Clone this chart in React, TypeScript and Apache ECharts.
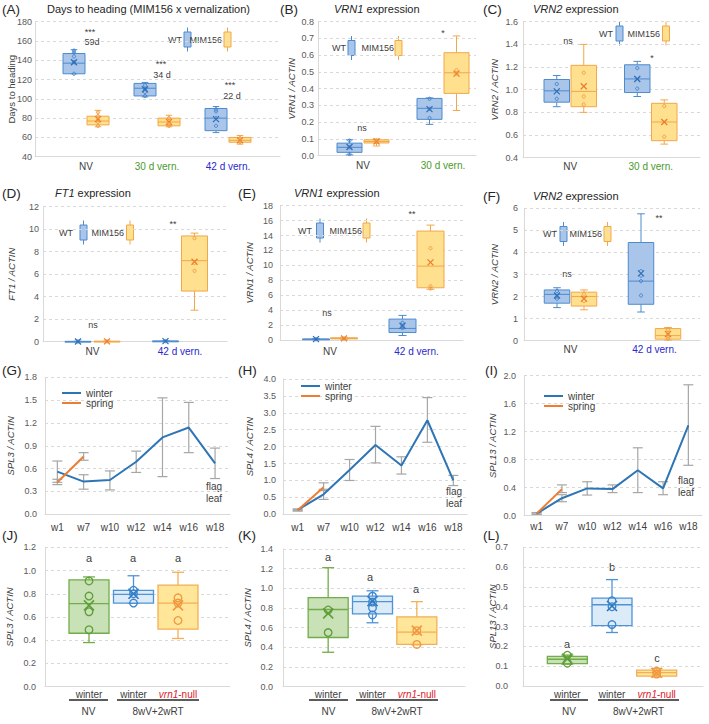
import React, { useEffect, useRef } from 'react';
import * as echarts from 'echarts';

const FONT = '"Liberation Sans", Arial, Helvetica, sans-serif';
const INK = '#404040';
const TICK = '#595959';
const GRIDLINE = '#d9d9d9';
const WINTER = '#2e75b6';
const SPRING = '#ed7d31';

// ---------- (A) Days to heading ----------
const aCategories = ['NV', '30 d vern.', '42 d vern.'];
// box stats: [min, Q1, median, Q3, max]
const aWTBox = [[126, 126, 137, 147, 151], [102, 103, 111, 116, 117], [65, 67, 80, 90, 92]];
const aWTMean = [138, 110, 79];
const aWTPoints = [[126, 138, 144, 148, 150], [103, 107, 110, 114], [72, 80, 87, 89]];
const aMIMBox = [[71, 73, 77, 82, 88], [71, 72, 76, 80, 83], [53, 55, 57, 60, 62]];
const aMIMMean = [79, 76, 57];
const aMIMPoints = [[72, 76, 78, 82, 86], [72, 74, 77, 80], [55, 57, 59]];

// ---------- (B) VRN1, 30 d ----------
const bCategories = ['NV', '30 d vern.'];
const bWTBox = [[0.005, 0.02, 0.05, 0.075, 0.095], [0.187, 0.217, 0.283, 0.342, 0.345]];
const bWTMean = [0.052, 0.278];
const bWTPoints = [[0.01, 0.05, 0.09], [0.225, 0.28, 0.34]];
const bMIMBox = [[0.058, 0.076, 0.085, 0.095, 0.1], [0.27, 0.372, 0.495, 0.615, 0.715]];
const bMIMMean = [0.085, 0.49];
const bMIMPoints = [[0.08, 0.09], [0.49, 0.51]];

// ---------- (C) VRN2, 30 d ----------
const cCategories = ['NV', '30 d vern.'];
const cWTBox = [[0.85, 0.89, 0.99, 1.09, 1.125], [0.94, 0.975, 1.095, 1.22, 1.25]];
const cWTMean = [0.985, 1.095];
const cWTPoints = [[0.92, 1.05], [1.01, 1.19]];
const cMIMBox = [[0.8, 0.85, 0.985, 1.215, 1.4], [0.52, 0.55, 0.715, 0.88, 0.91]];
const cMIMMean = [1.03, 0.715];
const cMIMPoints = [[0.87, 0.94, 1.15], [0.585, 0.855]];

// ---------- (D) FT1, 42 d ----------
const dCategories = ['NV', '42 d vern.'];
const dWTBox = [[0.01, 0.015, 0.02, 0.03, 0.04], [0.03, 0.04, 0.05, 0.06, 0.07]];
const dWTMean = [0.02, 0.05];
const dWTPoints = [[0.02], [0.05]];
const dMIMBox = [[0.01, 0.02, 0.03, 0.04, 0.05], [2.8, 4.5, 7.2, 9.4, 9.65]];
const dMIMMean = [0.03, 7.1];
const dMIMPoints = [[0.03], [6.3, 7.0, 9.2]];

// ---------- (E) VRN1, 42 d ----------
const eCategories = ['NV', '42 d vern.'];
const eWTBox = [[0.05, 0.08, 0.1, 0.14, 0.18], [0.6, 1.0, 1.55, 2.8, 3.3]];
const eWTMean = [0.12, 1.9];
const eWTPoints = [[0.1], [1.6, 1.9, 2.3]];
const eMIMBox = [[0.1, 0.15, 0.2, 0.3, 0.35], [6.8, 7.0, 9.9, 14.6, 15.4]];
const eMIMMean = [0.22, 10.4];
const eMIMPoints = [[0.2], [6.9, 7.2, 12.3]];

// ---------- (F) VRN2, 42 d ----------
const fCategories = ['NV', '42 d vern.'];
const fWTBox = [[1.5, 1.7, 2.1, 2.3, 2.4], [1.3, 1.65, 2.7, 4.45, 5.75]];
const fWTMean = [2.05, 3.05];
const fWTPoints = [[1.9, 2.0, 2.25], [2.05, 2.7, 2.95, 3.15]];
const fMIMBox = [[1.4, 1.57, 2.0, 2.2, 2.3], [0.03, 0.07, 0.23, 0.55, 0.6]];
const fMIMMean = [1.9, 0.3];
const fMIMPoints = [[1.8, 2.1], [0.1, 0.2, 0.35, 0.5]];

// ---------- (G)-(I) time courses ----------
const weeks = ['w1', 'w7', 'w10', 'w12', 'w14', 'w16', 'w18'];
const gWinter = [0.56, 0.43, 0.45, 0.69, 1.01, 1.14, 0.67];
const gWinterLow = [0.42, 0.33, 0.32, 0.55, 0.495, 0.81, 0.47];
const gWinterHigh = [0.7, 0.52, 0.57, 0.83, 1.53, 1.47, 0.87];
const gSpring = [0.42, 0.76];
const gSpringLow = [0.39, 0.71];
const gSpringHigh = [0.46, 0.81];

const hWinter = [0.13, 0.59, 1.31, 2.05, 1.44, 2.78, 1.0];
const hWinterLow = [0.1, 0.44, 1.0, 1.52, 1.19, 2.13, 0.85];
const hWinterHigh = [0.16, 0.74, 1.62, 2.6, 1.7, 3.45, 1.15];
const hSpring = [0.12, 0.8];
const hSpringLow = [0.1, 0.7];
const hSpringHigh = [0.14, 0.93];

const iWinter = [0.03, 0.25, 0.39, 0.38, 0.65, 0.39, 1.29];
const iWinterLow = [0.02, 0.2, 0.295, 0.33, 0.33, 0.3, 0.72];
const iWinterHigh = [0.045, 0.3, 0.485, 0.44, 0.97, 0.485, 1.87];
const iSpring = [0.03, 0.38];
const iSpringLow = [0.02, 0.33];
const iSpringHigh = [0.04, 0.44];

// ---------- (J)-(L) SPL expression, NV winter / 8wV+2wRT winter / vrn1-null ----------
const jklCategories = ['winter', 'winter', 'vrn1-null'];
const jBox = [[0.38, 0.46, 0.715, 0.92, 0.945], [0.718, 0.72, 0.795, 0.83, 0.955], [0.415, 0.495, 0.72, 0.875, 0.985]];
const jMean = [0.7, 0.8, 0.7];
const jPoints = [[0.49, 0.645, 0.78, 0.91], [0.72, 0.8, 0.83], [0.57, 0.72, 0.765]];
const kBox = [[0.35, 0.5, 0.785, 0.905, 1.21], [0.65, 0.74, 0.865, 0.92, 0.975], [0.425, 0.43, 0.555, 0.71, 0.865]];
const kMean = [0.745, 0.87, 0.57];
const kPoints = [[0.55, 0.78], [0.73, 0.8, 0.86, 0.92], [0.43, 0.57]];
const lBox = [[0.11, 0.113, 0.135, 0.15, 0.156], [0.27, 0.305, 0.41, 0.443, 0.537], [0.046, 0.05, 0.067, 0.08, 0.088]];
const lMean = [0.138, 0.404, 0.067];
const lPoints = [[0.115, 0.155], [0.31, 0.4, 0.43], [0.06, 0.075]];

// ---------- styles ----------
const WT = { fill: '#a9c5e9', stroke: '#4d8bce', mean: '#2e6db4', point: '#3f7fc6' };
const MIM = { fill: '#ffe08e', stroke: '#f2a74a', mean: '#ec7b2d', point: '#ee9840' };
const GREEN = { fill: '#c8e1b6', stroke: '#72ad4a', mean: '#5f9e3a', point: '#5f9e3a' };
const PALEBLUE = { fill: '#dcebf8', stroke: '#4f93d6', mean: '#2e75b6', point: '#3a84cc' };
const YELLOW = { fill: '#ffe699', stroke: '#f4ae55', mean: '#ef9940', point: '#ef9940' };

const RICH = {
  n: { color: INK, fontSize: 10, fontFamily: FONT },
  g: { color: '#4a9a2c', fontSize: 10, fontFamily: FONT },
  b: { color: '#2828cc', fontSize: 10, fontFamily: FONT },
  ri: { color: '#e0202a', fontSize: 10, fontStyle: 'italic', fontFamily: FONT },
  r: { color: '#e0202a', fontSize: 10, fontFamily: FONT },
};

function catLabel(c: string): string {
  if (c === '30 d vern.') return `{g|${c}}`;
  if (c === '42 d vern.') return `{b|${c}}`;
  if (c === 'vrn1-null') return '{ri|vrn1}{r|-null}';
  return `{n|${c}}`;
}

interface Plot { l: number; t: number; r: number; b: number }
interface PanelSpec {
  plot: Plot; catL: number; catR: number; cats: string[];
  yMin: number; yMax: number; yStep: number; digits: number;
  yName: string; italic: boolean; nameGap: number; yLabelMargin: number; xLabelMargin: number;
}

type Style = { fill: string; stroke: string; mean: string; point: string };

function boxSeries(axis: number, items: { cat: number; s: number[]; mean: number }[], st: Style, dx: number, w: number, mark: number, lw: number) {
  return {
    type: 'custom', xAxisIndex: axis, yAxisIndex: axis, silent: true, clip: false, z: 2,
    data: items.map((it) => [it.cat, ...it.s, it.mean]),
    encode: { x: 0, y: [1, 2, 3, 4, 5, 6] },
    renderItem: (_params: any, api: any) => {
      const c = api.value(0);
      const at = (k: number) => api.coord([c, api.value(k)]);
      const x = at(1)[0] + dx;
      const yMin = at(1)[1], yQ1 = at(2)[1], yMed = at(3)[1], yQ3 = at(4)[1], yMax = at(5)[1], yMean = at(6)[1];
      const cap = w * 0.3;
      const m = mark / 2;
      const ln = (x1: number, y1: number, x2: number, y2: number, color = st.stroke, width = lw) => ({
        type: 'line', shape: { x1, y1, x2, y2 }, style: { stroke: color, lineWidth: width },
      });
      return {
        type: 'group',
        children: [
          ln(x, yMax, x, yQ3), ln(x, yQ1, x, yMin),
          ln(x - cap / 2, yMax, x + cap / 2, yMax), ln(x - cap / 2, yMin, x + cap / 2, yMin),
          { type: 'rect', shape: { x: x - w / 2, y: yQ3, width: w, height: Math.max(yQ1 - yQ3, 0.8) }, style: { fill: st.fill, stroke: st.stroke, lineWidth: lw } },
          ln(x - w / 2, yMed, x + w / 2, yMed),
          ln(x - m, yMean - m, x + m, yMean + m, st.mean, lw + 0.3),
          ln(x - m, yMean + m, x + m, yMean - m, st.mean, lw + 0.3),
        ],
      };
    },
  };
}

function pointSeries(axis: number, pts: number[][], st: Style, dx: number, r: number, lw: number) {
  return {
    type: 'custom', xAxisIndex: axis, yAxisIndex: axis, silent: true, clip: false, z: 3,
    data: pts, encode: { x: 0, y: 1 },
    renderItem: (_params: any, api: any) => {
      const p = api.coord([api.value(0), api.value(1)]);
      return { type: 'circle', shape: { cx: p[0] + dx, cy: p[1], r }, style: { fill: 'transparent', stroke: st.point, lineWidth: lw } };
    },
  };
}

function errorSeries(axis: number, low: number[], high: number[]) {
  return {
    type: 'custom', xAxisIndex: axis, yAxisIndex: axis, silent: true, clip: false, z: 1,
    data: low.map((lo, i) => [i, lo, high[i]]), encode: { x: 0, y: [1, 2] },
    renderItem: (_params: any, api: any) => {
      const a = api.coord([api.value(0), api.value(1)]);
      const b = api.coord([api.value(0), api.value(2)]);
      const s = { stroke: '#a6a6a6', lineWidth: 1.2 };
      return {
        type: 'group',
        children: [
          { type: 'line', shape: { x1: a[0], y1: a[1], x2: b[0], y2: b[1] }, style: s },
          { type: 'line', shape: { x1: a[0] - 5, y1: a[1], x2: a[0] + 5, y2: a[1] }, style: s },
          { type: 'line', shape: { x1: b[0] - 5, y1: b[1], x2: b[0] + 5, y2: b[1] }, style: s },
        ],
      };
    },
  };
}

const flat = (pts: number[][]) => pts.flatMap((arr, cat) => arr.map((v) => [cat, v]));

function buildOption() {
  const grids: any[] = [];
  const xAxes: any[] = [];
  const yAxes: any[] = [];
  const series: any[] = [];
  const elements: any[] = [];

  const addPanel = (p: PanelSpec): number => {
    const h = p.plot.b - p.plot.t;
    const outer = grids.length;
    grids.push({ left: p.plot.l, top: p.plot.t, width: p.plot.r - p.plot.l, height: h, containLabel: false, outerBoundsMode: 'none' });
    xAxes.push({
      gridIndex: outer, type: 'value', min: 0, max: 1,
      axisLine: { show: true, onZero: false, lineStyle: { color: GRIDLINE, width: 1 } },
      axisTick: { show: false }, axisLabel: { show: false }, splitLine: { show: false },
    });
    yAxes.push({
      gridIndex: outer, type: 'value', min: p.yMin, max: p.yMax, interval: p.yStep,
      axisLine: { show: true, onZero: false, lineStyle: { color: GRIDLINE, width: 1 } },
      axisTick: { show: false },
      axisLabel: { show: true, margin: p.yLabelMargin, fontSize: 9, color: TICK, fontFamily: FONT, formatter: (v: number) => v.toFixed(p.digits) },
      splitLine: { show: true, lineStyle: { color: GRIDLINE, type: [3, 3], width: 1 } },
      name: p.yName, nameLocation: 'middle', nameRotate: 90, nameGap: p.nameGap, nameMoveOverlap: false,
      nameTextStyle: { fontSize: 9.5, color: INK, fontStyle: p.italic ? 'italic' : 'normal', fontFamily: FONT },
    });
    const inner = grids.length;
    grids.push({ left: p.catL, top: p.plot.t, width: p.catR - p.catL, height: h, containLabel: false, outerBoundsMode: 'none' });
    xAxes.push({
      gridIndex: inner, type: 'category', data: p.cats.map((_c, i) => String(i)), boundaryGap: true,
      axisLine: { show: false }, axisTick: { show: false }, splitLine: { show: false },
      axisLabel: { show: true, interval: 0, margin: p.xLabelMargin, formatter: (v: string) => catLabel(p.cats[Number(v)]), rich: RICH },
    });
    yAxes.push({ gridIndex: inner, type: 'value', min: p.yMin, max: p.yMax, show: false });
    return inner;
  };

  const pairPanel = (axis: number, wtBox: number[][], wtMean: number[], wtPts: number[][], mimBox: number[][], mimMean: number[], mimPts: number[][], dx: number, w: number) => {
    series.push(boxSeries(axis, wtBox.map((s, i) => ({ cat: i, s, mean: wtMean[i] })), WT, -dx, w, 6, 1));
    series.push(boxSeries(axis, mimBox.map((s, i) => ({ cat: i, s, mean: mimMean[i] })), MIM, dx, w, 6, 1));
    series.push(pointSeries(axis, flat(wtPts), WT, -dx, 1.6, 0.9));
    series.push(pointSeries(axis, flat(mimPts), MIM, dx, 1.6, 0.9));
  };

  const trioPanel = (axis: number, boxes: number[][], means: number[], pts: number[][]) => {
    [GREEN, PALEBLUE, YELLOW].forEach((st, i) => {
      series.push(boxSeries(axis, [{ cat: i, s: boxes[i], mean: means[i] }], st, 0, 40, 10, 1.3));
      series.push(pointSeries(axis, pts[i].map((v) => [i, v]), st, 0, 3.8, 1.3));
    });
  };

  const linePanel = (axis: number, winter: number[], wLo: number[], wHi: number[], spring: number[], sLo: number[], sHi: number[]) => {
    series.push(errorSeries(axis, wLo, wHi));
    series.push(errorSeries(axis, sLo, sHi));
    series.push({ name: 'winter', type: 'line', xAxisIndex: axis, yAxisIndex: axis, data: winter, symbol: 'none', silent: true, z: 3, lineStyle: { color: WINTER, width: 2 }, itemStyle: { color: WINTER } });
    series.push({ name: 'spring', type: 'line', xAxisIndex: axis, yAxisIndex: axis, data: spring, symbol: 'none', silent: true, z: 3, lineStyle: { color: SPRING, width: 2 }, itemStyle: { color: SPRING } });
  };

  // ----- panels -----
  const A = addPanel({ plot: { l: 35, t: 21.7, r: 280, b: 156.7 }, catL: 50.5, catR: 263.5, cats: aCategories, yMin: 40, yMax: 180, yStep: 20, digits: 0, yName: 'Days to heading', italic: false, nameGap: 18.5, yLabelMargin: 3, xLabelMargin: 5 });
  const B = addPanel({ plot: { l: 318, t: 21.7, r: 476, b: 155.7 }, catL: 323, catR: 483, cats: bCategories, yMin: 0, yMax: 0.8, yStep: 0.1, digits: 1, yName: 'VRN1 / ACTIN', italic: true, nameGap: 21.5, yLabelMargin: 4, xLabelMargin: 5 });
  const C = addPanel({ plot: { l: 523, t: 21.7, r: 700, b: 157.7 }, catL: 530, catR: 691, cats: cCategories, yMin: 0.4, yMax: 1.6, yStep: 0.2, digits: 1, yName: 'VRN2 / ACTIN', italic: true, nameGap: 23.5, yLabelMargin: 5, xLabelMargin: 4 });
  const D = addPanel({ plot: { l: 43, t: 206.7, r: 227, b: 341.7 }, catL: 48.75, catR: 223.75, cats: dCategories, yMin: 0, yMax: 12, yStep: 2, digits: 0, yName: 'FT1 / ACTIN', italic: true, nameGap: 26.5, yLabelMargin: 4, xLabelMargin: 5 });
  const E = addPanel({ plot: { l: 280, t: 205.7, r: 463, b: 340 }, catL: 286.75, catR: 459.75, cats: eCategories, yMin: 0, yMax: 18, yStep: 2, digits: 0, yName: 'VRN1 / ACTIN', italic: true, nameGap: 25.5, yLabelMargin: 7, xLabelMargin: 6 });
  const F = addPanel({ plot: { l: 524, t: 208.3, r: 700, b: 340.7 }, catL: 528.5, catR: 696.5, cats: fCategories, yMin: 0, yMax: 6, yStep: 1, digits: 0, yName: 'VRN2 / ACTIN', italic: true, nameGap: 24.5, yLabelMargin: 6, xLabelMargin: 4 });
  const G = addPanel({ plot: { l: 45, t: 377.3, r: 230, b: 514.3 }, catL: 44.2, catR: 228.2, cats: weeks, yMin: 0, yMax: 1.8, yStep: 0.3, digits: 1, yName: 'SPL3 / ACTIN', italic: true, nameGap: 29.5, yLabelMargin: 8, xLabelMargin: 8 });
  const H = addPanel({ plot: { l: 283, t: 379, r: 467, b: 514.3 }, catL: 284.7, catR: 466.3, cats: weeks, yMin: 0, yMax: 4, yStep: 0.5, digits: 1, yName: 'SPL4 / ACTIN', italic: true, nameGap: 28.5, yLabelMargin: 7, xLabelMargin: 8 });
  const I = addPanel({ plot: { l: 524, t: 375.7, r: 702, b: 515.7 }, catL: 524, catR: 701, cats: weeks, yMin: 0, yMax: 2, yStep: 0.4, digits: 1, yName: 'SPL13 / ACTIN', italic: true, nameGap: 26.5, yLabelMargin: 8, xLabelMargin: 6 });
  const J = addPanel({ plot: { l: 45, t: 547.3, r: 230, b: 686.7 }, catL: 66.75, catR: 200.25, cats: jklCategories, yMin: 0, yMax: 1.2, yStep: 0.2, digits: 1, yName: 'SPL3 / ACTIN', italic: true, nameGap: 30.5, yLabelMargin: 9, xLabelMargin: 2.5 });
  const K = addPanel({ plot: { l: 283, t: 549, r: 465, b: 686.7 }, catL: 306, catR: 439, cats: jklCategories, yMin: 0, yMax: 1.4, yStep: 0.2, digits: 1, yName: 'SPL4 / ACTIN', italic: true, nameGap: 30.5, yLabelMargin: 10, xLabelMargin: 2.5 });
  const L = addPanel({ plot: { l: 523, t: 547.3, r: 703, b: 686 }, catL: 545, catR: 679, cats: jklCategories, yMin: 0, yMax: 0.7, yStep: 0.1, digits: 1, yName: 'SPL13 / ACTIN', italic: true, nameGap: 25.5, yLabelMargin: 15, xLabelMargin: 3 });

  pairPanel(A, aWTBox, aWTMean, aWTPoints, aMIMBox, aMIMMean, aMIMPoints, 12, 22);
  pairPanel(B, bWTBox, bWTMean, bWTPoints, bMIMBox, bMIMMean, bMIMPoints, 13.5, 25);
  pairPanel(C, cWTBox, cWTMean, cWTPoints, cMIMBox, cMIMMean, cMIMPoints, 13.5, 25.5);
  pairPanel(D, dWTBox, dWTMean, dWTPoints, dMIMBox, dMIMMean, dMIMPoints, 14.5, 26);
  pairPanel(E, eWTBox, eWTMean, eWTPoints, eMIMBox, eMIMMean, eMIMPoints, 14, 27);
  pairPanel(F, fWTBox, fWTMean, fWTPoints, fMIMBox, fMIMMean, fMIMPoints, 13.5, 25.5);
  linePanel(G, gWinter, gWinterLow, gWinterHigh, gSpring, gSpringLow, gSpringHigh);
  linePanel(H, hWinter, hWinterLow, hWinterHigh, hSpring, hSpringLow, hSpringHigh);
  linePanel(I, iWinter, iWinterLow, iWinterHigh, iSpring, iSpringLow, iSpringHigh);
  trioPanel(J, jBox, jMean, jPoints);
  trioPanel(K, kBox, kMean, kPoints);
  trioPanel(L, lBox, lMean, lPoints);

  // ----- text decorations -----
  const text = (x: number, y: number, t: string, extra: any = {}) => ({
    type: 'text', x, y, silent: true,
    style: { text: t, fontFamily: FONT, fontSize: 9, fill: INK, align: 'center', verticalAlign: 'middle', ...extra },
  });
  const line = (x1: number, y1: number, x2: number, y2: number, stroke: string, lineWidth = 1) => ({
    type: 'line', silent: true, shape: { x1, y1, x2, y2 }, style: { stroke, lineWidth },
  });

  const tags: [string, number, number][] = [
    ['(A)', 2, 9], ['(B)', 280, 9], ['(C)', 483, 9], ['(D)', 2, 193], ['(E)', 238, 193], ['(F)', 483, 196],
    ['(G)', 2, 370], ['(H)', 238, 370], ['(I)', 485, 370], ['(J)', 2, 535], ['(K)', 238, 535], ['(L)', 483, 535],
  ];
  tags.forEach(([t, x, y]) => elements.push(text(x, y, t, { fontSize: 13.5, fill: '#262626', align: 'left' })));

  const titleRich = {
    i: { fontStyle: 'italic', fontSize: 11, fontFamily: FONT, fill: '#262626' },
    n: { fontSize: 11, fontFamily: FONT, fill: '#262626' },
  };
  const titles: [number, number, string][] = [
    [47, 9, '{n|Days to heading (MIM156 x vernalization)}'],
    [334, 9, '{i|VRN1}{n| expression}'],
    [533, 9, '{i|VRN2}{n| expression}'],
    [55, 193, '{i|FT1}{n| expression}'],
    [294, 193, '{i|VRN1}{n| expression}'],
    [533, 196, '{i|VRN2}{n| expression}'],
  ];
  titles.forEach(([x, y, t]) => elements.push(text(x, y, t, { align: 'left', rich: titleRich })));

  const notes: [string, number, number][] = [
    ['***', 90, 32], ['59d', 92, 42], ['***', 161, 64], ['34 d', 162, 75], ['***', 230, 85], ['22 d', 232, 96],
    ['ns', 362, 128], ['*', 443, 33], ['ns', 568, 41], ['*', 652, 58],
    ['ns', 93, 325], ['**', 173, 224], ['ns', 327, 313], ['**', 412, 214], ['ns', 567, 274], ['**', 659, 218],
  ];
  notes.forEach(([t, x, y]) => elements.push(text(x, y, t)));

  const letters: [string, number, number][] = [
    ['a', 89, 558], ['a', 133, 558], ['a', 178, 558],
    ['a', 328, 557], ['a', 370, 577], ['a', 416, 589],
    ['b', 612, 567], ['a', 567, 644], ['c', 657, 658],
  ];
  letters.forEach(([t, x, y]) => elements.push(text(x, y, t, { fontSize: 11 })));

  // WT / MIM156 keys with small box glyphs
  const keys: { cy: number; wt: [number, number]; mim: [number, number] }[] = [
    { cy: 39.5, wt: [182, 187.5], mim: [222, 227.5] },
    { cy: 48, wt: [346, 351.5], mim: [394, 398.5] },
    { cy: 33.5, wt: [613, 619.5], mim: [660, 666] },
    { cy: 232.5, wt: [73, 83.5], mim: [124, 130] },
    { cy: 230.5, wt: [312, 320], mim: [362, 366.5] },
    { cy: 234, wt: [557, 563.5], mim: [602, 607.5] },
  ];
  keys.forEach((k) => {
    ([[k.wt, 'WT', WT], [k.mim, 'MIM156', MIM]] as any[]).forEach(([pos, label, st]) => {
      const [tx, cx] = pos;
      elements.push(text(tx, k.cy, label, { align: 'right' }));
      elements.push(line(cx, k.cy - 12, cx, k.cy + 12, st.stroke, 1));
      elements.push({ type: 'rect', silent: true, shape: { x: cx - 3.5, y: k.cy - 7.5, width: 7, height: 15 }, style: { fill: st.fill, stroke: st.stroke, lineWidth: 1 } });
    });
  });

  // flag leaf notes
  ([[214, 492], [454, 497.5], [686, 486]] as [number, number][]).forEach(([x, y]) =>
    elements.push(text(x, y, 'flag\nleaf', { fontSize: 10, lineHeight: 12 })));

  // treatment brackets under (J)-(L)
  const brackets: { nv: [number, number]; trt: [number, number] }[] = [
    { nv: [69, 108], trt: [117, 199] },
    { nv: [309, 348], trt: [356, 438] },
    { nv: [550, 588], trt: [598, 679] },
  ];
  brackets.forEach((b) => {
    elements.push(line(b.nv[0], 700, b.nv[1], 700, '#262626', 1.3));
    elements.push(line(b.trt[0], 700, b.trt[1], 700, '#262626', 1.3));
    elements.push(text((b.nv[0] + b.nv[1]) / 2, 711, 'NV', { fontSize: 10 }));
    elements.push(text((b.trt[0] + b.trt[1]) / 2, 711, '8wV+2wRT', { fontSize: 10 }));
  });

  const legendAt = (left: number, top: number) => ({
    data: ['winter', 'spring'], left, top, orient: 'vertical', padding: 0, itemGap: 0,
    itemWidth: 19, itemHeight: 2, icon: 'rect', selectedMode: false,
    textStyle: { fontSize: 10, color: INK, fontFamily: FONT },
  });

  return {
    animation: false,
    backgroundColor: '#ffffff',
    textStyle: { fontFamily: FONT },
    grid: grids,
    xAxis: xAxes,
    yAxis: yAxes,
    legend: [legendAt(62, 388), legendAt(301, 381), legendAt(544, 391)],
    series,
    graphic: { elements },
  };
}

export default function App() {
  const ref = useRef<HTMLDivElement>(null);
  useEffect(() => {
    if (!ref.current) return;
    const chart = echarts.init(ref.current, null, { renderer: 'svg' });
    chart.setOption(buildOption() as any);
    return () => chart.dispose();
  }, []);
  return (
    <div
      ref={ref}
      style={{ position: 'absolute', left: 0, top: 0, width: 709, height: 724, background: '#ffffff' }}
    />
  );
}
